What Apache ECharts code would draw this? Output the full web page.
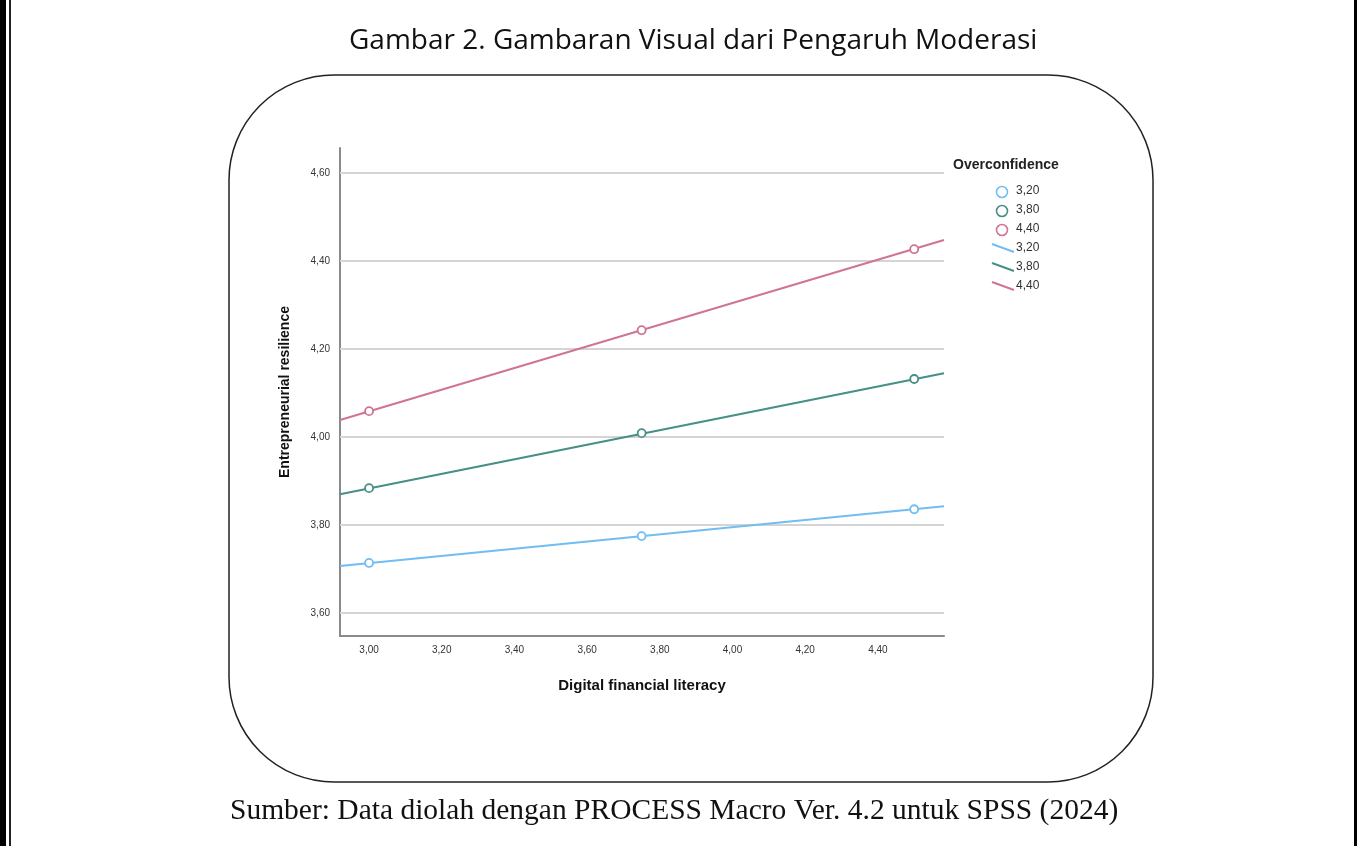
<!DOCTYPE html>
<html>
<head>
<meta charset="utf-8">
<script src="https://cdn.jsdelivr.net/npm/echarts@6/dist/echarts.min.js"></script>
<style>
html, body { margin: 0; padding: 0; background: #fff; }
#main { width: 1359px; height: 846px; }
</style>
</head>
<body>
<div id="main"></div>
<script>
// moderator levels (Overconfidence)
var levels = ['3,20', '3,80', '4,40'];
var colors = ['#72bdf2', '#468f86', '#cf7397'];

// points at the three Digital financial literacy values
var xPoints = [3.00, 3.75, 4.50];
var yLow = [3.714, 3.775, 3.836];
var yMid = [3.884, 4.009, 4.132];
var yHigh = [4.059, 4.243, 4.427];

// fitted lines read at the two plot edges
var xEdges = [2.92, 4.582];
var lineLow = [3.707, 3.843];
var lineMid = [3.870, 4.145];
var lineHigh = [4.039, 4.448];

var pointSets = [yLow, yMid, yHigh];
var lineSets = [lineLow, lineMid, lineHigh];

function pairs(xs, ys) {
	var out = [];
	for (var i = 0; i < xs.length; i++) {
		out.push([xs[i], ys[i]]);
	}
	return out;
}

function fmt(v) {
	return v.toFixed(2).replace('.', ',');
}

var series = [];
for (var i = 0; i < levels.length; i++) {
	series.push({
		name: 'line ' + levels[i],
		type: 'line',
		data: pairs(xEdges, lineSets[i]),
		showSymbol: false,
		lineStyle: { color: colors[i], width: 2 },
		z: 2
	});
}
for (var i = 0; i < levels.length; i++) {
	series.push({
		name: levels[i],
		type: 'scatter',
		data: pairs(xPoints, pointSets[i]),
		symbol: 'circle',
		symbolSize: 8,
		itemStyle: { color: '#ffffff', borderColor: colors[i], borderWidth: 1.8, opacity: 1 },
		z: 3
	});
}

// legend drawn as graphic: title, 3 circles, 3 line samples
var legendItems = [{
	type: 'text', left: 953, top: 158,
	style: { text: 'Overconfidence', font: 'bold 14px "Liberation Sans", Arial', fill: '#222' }
}];
for (var i = 0; i < levels.length; i++) {
	legendItems.push({
		type: 'circle', shape: { cx: 1002, cy: 192 + i * 19, r: 5.5 },
		style: { fill: 'none', stroke: colors[i], lineWidth: 1.6 }
	});
	legendItems.push({
		type: 'text', left: 1016, top: 185 + i * 19,
		style: { text: levels[i], font: '12px "Liberation Sans Narrow", "Liberation Sans", Arial', fill: '#333' }
	});
	legendItems.push({
		type: 'line', shape: { x1: 992, y1: 244 + i * 19, x2: 1014, y2: 252 + i * 19 },
		style: { stroke: colors[i], lineWidth: 2 }
	});
	legendItems.push({
		type: 'text', left: 1016, top: 242 + i * 19,
		style: { text: levels[i], font: '12px "Liberation Sans Narrow", "Liberation Sans", Arial', fill: '#333' }
	});
}

var graphics = [
	{ type: 'rect', shape: { x: 0, y: 0, width: 6, height: 846 }, style: { fill: '#000' } },
	{ type: 'rect', shape: { x: 9, y: 0, width: 2, height: 846 }, style: { fill: '#222' } },
	{ type: 'rect', shape: { x: 1354, y: 0, width: 3, height: 846 }, style: { fill: '#000' } },
	{
		type: 'rect', z: -1,
		shape: { x: 229, y: 75, width: 924, height: 707, r: 105 },
		style: { fill: '#fff', stroke: '#222', lineWidth: 1.5 }
	},
	{
		type: 'text', left: 349, top: 27,
		style: { text: 'Gambar 2. Gambaran Visual dari Pengaruh Moderasi', font: '28px "Open Sans", "Noto Sans", sans-serif', fill: '#111' }
	},
	{
		type: 'text', left: 230, top: 796,
		style: { text: 'Sumber: Data diolah dengan PROCESS Macro Ver. 4.2 untuk SPSS (2024)', font: '29.5px "Liberation Serif", "Times New Roman", serif', fill: '#111' }
	}
].concat(legendItems);

var chart = echarts.init(document.getElementById('main'));
var option = {
	animation: false,
	backgroundColor: '#ffffff',
	grid: { left: 340, right: 415, top: 148, bottom: 210 },
	xAxis: {
		type: 'value',
		min: 2.92,
		max: 4.582,
		interval: 0.2,
		name: 'Digital financial literacy',
		nameLocation: 'middle',
		nameGap: 42,
		nameTextStyle: { fontFamily: '"Liberation Sans", Arial', fontWeight: 'bold', fontSize: 15, color: '#111' },
		axisLine: { lineStyle: { color: '#8a8a8a', width: 2 } },
		axisTick: { show: false },
		splitLine: { show: false },
		axisLabel: {
			customValues: [3.0, 3.2, 3.4, 3.6, 3.8, 4.0, 4.2, 4.4],
			formatter: fmt,
			fontFamily: '"Liberation Sans Narrow", "Liberation Sans", Arial',
			fontSize: 10,
			color: '#333',
			margin: 9
		}
	},
	yAxis: {
		type: 'value',
		min: 3.548,
		max: 4.657,
		name: 'Entrepreneurial resilience',
		nameLocation: 'middle',
		nameGap: 48,
		nameRotate: 90,
		nameTextStyle: { fontFamily: '"Liberation Sans", Arial', fontWeight: 'bold', fontSize: 14, color: '#111' },
		axisLine: { show: true, lineStyle: { color: '#8a8a8a', width: 2 } },
		splitLine: { show: false },
		axisLabel: {
			customValues: [3.6, 3.8, 4.0, 4.2, 4.4, 4.6],
			formatter: fmt,
			fontFamily: '"Liberation Sans Narrow", "Liberation Sans", Arial',
			fontSize: 10,
			color: '#333',
			margin: 10
		},
		axisTick: { show: true, customValues: [3.6, 3.8, 4.0, 4.2, 4.4, 4.6], length: -604, lineStyle: { color: '#d4d4d4', width: 2 } }
	},
	graphic: graphics,
	series: series
};
chart.setOption(option);
</script>
</body>
</html>
